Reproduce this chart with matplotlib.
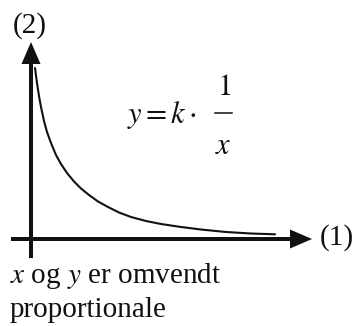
import matplotlib
matplotlib.use('Agg')
import matplotlib.pyplot as plt

plt.rcParams['font.family'] = ['Liberation Serif', 'DejaVu Serif']
plt.rcParams['mathtext.fontset'] = 'stix'

# curve points (distance right of / above the origin, px)
curve_x = [4, 6, 8, 10, 13, 16, 20, 25, 30, 36, 43, 50, 58, 67, 77, 88,
           100, 115, 130, 150, 170, 195, 220, 244]
curve_y = [171, 156, 143, 132, 118, 107, 96, 84, 75, 66, 57.5, 50.5, 44, 37.5, 32, 26.5,
           22, 18, 15, 12, 9.5, 7, 5.5, 4.7]

x_label = '(1)'
y_label = '(2)'
caption = [r'$x$ og $y$ er omvendt', 'proportionale']

ink = '#111111'

fig = plt.figure(figsize=(3.57, 3.26), dpi=100)
ax = fig.add_axes([0, 0, 1, 1])
ax.set_xlim(-31, 326)
ax.set_ylim(-87, 239)
ax.axis('off')

# axes with arrows
ax.arrow(-20, 0, 301, 0, width=4, head_width=19, head_length=22,
         length_includes_head=True, color=ink, lw=0)
ax.arrow(0, -19, 0, 216, width=4, head_width=19, head_length=22,
         length_includes_head=True, color=ink, lw=0)

ax.plot(curve_x, curve_y, color=ink, lw=1.5, solid_joinstyle='round',
        solid_capstyle='round')

ax.text(289, 1, x_label, fontsize=21, ha='left', va='center', color=ink)
ax.text(-1, 213, y_label, fontsize=21, ha='center', va='center', color=ink)

# y = k * 1/x, fraction built by hand
ax.text(96, 116, r'$y = k\cdot$', fontsize=22, ha='left', va='baseline', color=ink)
ax.plot([184, 201], [126, 126], color=ink, lw=1.1)
ax.text(193, 144, r'$1$', fontsize=22, ha='center', va='baseline', color=ink)
ax.text(192, 85, r'$x$', fontsize=22, ha='center', va='baseline', color=ink)

ax.text(-21, -44, caption[0], fontsize=21, ha='left', va='baseline', color=ink)
ax.text(-21, -78, caption[1], fontsize=21, ha='left', va='baseline', color=ink)

plt.savefig('out.png', dpi=100)
plt.close()
